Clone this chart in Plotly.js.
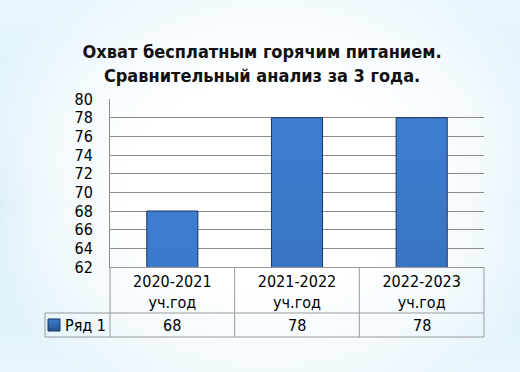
<!DOCTYPE html>
<html>
<head>
<meta charset="utf-8">
<script src="https://cdn.plot.ly/plotly-3.0.1.min.js"></script>
<style>
  html, body { margin: 0; padding: 0; }
  body {
    width: 520px; height: 372px; overflow: hidden;
    background:
      radial-gradient(ellipse 62% 62% at 52% 50%, rgba(255,255,255,1) 45%, rgba(255,255,255,0.65) 72%, rgba(255,255,255,0) 100%),
      linear-gradient(180deg, #e9f6fd 0%, #dcf0fb 30%, #cde7f7 55%, #d6edf9 66%, #e8f5fc 100%);
  }
  #chart { width: 520px; height: 372px; }
</style>
</head>
<body>
<div id="chart"></div>
<script>
const categories = ['2020-2021<br>уч.год', '2021-2022<br>уч.год', '2022-2023<br>уч.год'];
const values = [68, 78, 78];
const seriesName = 'Ряд 1';
const chartTitle = 'Охват бесплатным горячим питанием.<br>Сравнительный анализ за 3 года.';
const yRange = [62, 80];
const yStep = 2;

const FONT = '"DejaVu Sans Condensed", "Noto Sans", sans-serif';
const GRID = '#8c8c8c';
const TABLE = '#9a9a9a';
const BAR = '#3266b0';
const BAR_EDGE = '#1b355e';

// table geometry (paper coords relative to plot area)
const headerBottom = -0.2738;
const rowBottom = -0.4167;
const leftCol = -0.1738;
const rowMid = (headerBottom + rowBottom) / 2;

const shapes = [];
const line = (x0, y0, x1, y1) => shapes.push({
  type: 'line', xref: 'paper', yref: 'paper', x0, y0, x1, y1,
  line: { color: TABLE, width: 1 }
});
line(leftCol, headerBottom, 1, headerBottom);
line(leftCol, rowBottom, 1, rowBottom);
line(leftCol, headerBottom, leftCol, rowBottom);
line(0, 0, 0, rowBottom);
for (let i = 1; i <= categories.length; i++) {
  line(i / categories.length, 0, i / categories.length, rowBottom);
}
// legend key
shapes.push({
  type: 'rect', xref: 'paper', yref: 'paper',
  x0: -0.1658, x1: -0.1337, y0: -0.3095, y1: -0.381,
  fillcolor: BAR, line: { color: BAR_EDGE, width: 1 }
});

const annotations = values.map((v, i) => ({
  x: categories[i], xref: 'x', y: rowMid, yref: 'paper',
  text: String(v), showarrow: false, xanchor: 'center', yanchor: 'middle',
  font: { family: FONT, size: 16, color: '#000' }
}));
annotations.push({
  x: -0.125, xref: 'paper', y: rowMid, yref: 'paper',
  text: seriesName, showarrow: false, xanchor: 'left', yanchor: 'middle',
  font: { family: FONT, size: 16, color: '#000' }
});

const trace = {
  type: 'bar', x: categories, y: values, name: seriesName,
  marker: { color: BAR, line: { color: BAR_EDGE, width: 1 } },
  hoverinfo: 'none'
};

const layout = {
  width: 520, height: 372,
  margin: { l: 110, r: 36, t: 99, b: 105, pad: 0 },
  paper_bgcolor: 'rgba(0,0,0,0)',
  plot_bgcolor: 'rgba(0,0,0,0)',
  showlegend: false,
  bargap: 0.59,
  title: {
    text: chartTitle, x: 0.504, xanchor: 'center', y: 0.8435, yanchor: 'middle',
    yref: 'container',
    font: { family: FONT, size: 18, color: '#111', weight: 'bold' }
  },
  xaxis: {
    type: 'category', showgrid: false, showline: true, linecolor: TABLE, linewidth: 1,
    ticks: '', tickfont: { family: FONT, size: 16, color: '#000' },
    ticklabelstandoff: 0, fixedrange: true
  },
  yaxis: {
    range: yRange, dtick: yStep, tick0: yRange[0], showgrid: true, gridcolor: GRID, gridwidth: 1,
    showline: true, linecolor: GRID, linewidth: 1, zeroline: false,
    ticks: '', tickfont: { family: FONT, size: 16, color: '#000' },
    ticklabelstandoff: 13, fixedrange: true
  },
  shapes, annotations
};

Plotly.newPlot('chart', [trace], layout, { staticPlot: true, displayModeBar: false }).then(gd => {
  // vertical shading gradient on bar fills (styling only)
  const svg = gd.querySelector('svg.main-svg');
  const NS = 'http://www.w3.org/2000/svg';
  let defs = svg.querySelector('defs');
  if (!defs) { defs = document.createElementNS(NS, 'defs'); svg.insertBefore(defs, svg.firstChild); }
  const g = document.createElementNS(NS, 'linearGradient');
  g.setAttribute('id', 'barShade');
  g.setAttribute('x1', '0'); g.setAttribute('y1', '0'); g.setAttribute('x2', '0'); g.setAttribute('y2', '1');
  [['0', '#3d7dd0'], ['1', '#28528f']].forEach(([o, c]) => {
    const s = document.createElementNS(NS, 'stop');
    s.setAttribute('offset', o); s.setAttribute('stop-color', c);
    g.appendChild(s);
  });
  defs.appendChild(g);
  gd.querySelectorAll('.trace.bars .point path').forEach(p => { p.style.fill = 'url(#barShade)'; });
  const key = gd.querySelectorAll('.shapelayer path');
  if (key.length) key[key.length - 1].style.fill = 'url(#barShade)';
});
</script>
</body>
</html>
